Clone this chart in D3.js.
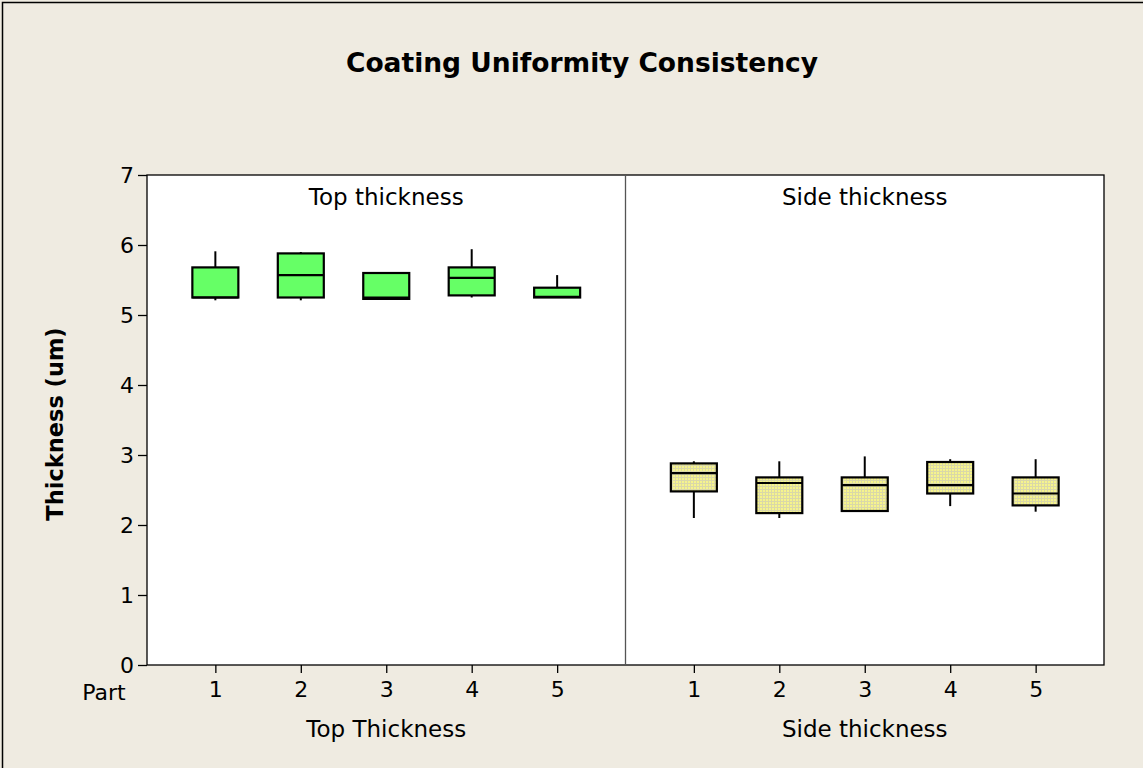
<!DOCTYPE html>
<html><head><meta charset="utf-8">
<script src="https://cdn.jsdelivr.net/npm/d3@7"></script>
<style>body{margin:0;background:#EFEBE1;}svg{display:block;}</style>
</head><body>
<script>
const parts = [1,2,3,4,5];
const panels = ["Top thickness","Side thickness"];
const xLabels = ["Top Thickness","Side thickness"];
const yTicks = [0,1,2,3,4,5,6,7];
// [lowerWhisker, q1, median, q3, upperWhisker]
const topBoxes = [
  [5.21,5.25,5.25,5.68,5.91],
  [5.21,5.25,5.57,5.88,5.90],
  [5.22,5.23,5.25,5.60,5.61],
  [5.25,5.28,5.53,5.68,5.94],
  [5.25,5.25,5.26,5.39,5.57]
];
const sideBoxes = [
  [2.10,2.48,2.74,2.88,2.91],
  [2.10,2.17,2.60,2.68,2.91],
  [2.20,2.20,2.57,2.68,2.98],
  [2.27,2.45,2.57,2.90,2.94],
  [2.19,2.28,2.45,2.68,2.94]
];
const W=1143,H=768;
const svg=d3.select("body").append("svg").attr("width",W).attr("height",H);
const defs=svg.append("defs");
const pat=defs.append("pattern").attr("id","dots").attr("patternUnits","userSpaceOnUse").attr("width",3).attr("height",3);
pat.append("rect").attr("width",3).attr("height",3).attr("fill","#F6F48C");
pat.append("rect").attr("x",0).attr("y",0).attr("width",3).attr("height",1).attr("fill","#DAD8A8");
pat.append("rect").attr("x",0).attr("y",0).attr("width",1).attr("height",3).attr("fill","#DAD8A8");
svg.append("rect").attr("width",W).attr("height",H).attr("fill","#EFEBE1");
svg.append("rect").attr("x",2.5).attr("y",2.5).attr("width",W+10).attr("height",H+10).attr("fill","none").attr("stroke","#000").attr("stroke-width",1.5);
const font="Tahoma, 'DejaVu Sans', sans-serif";
const fs=22;
svg.append("text").attr("x",582).attr("y",72).attr("text-anchor","middle").attr("font-family",font).attr("font-weight","bold").attr("font-size",26.5).attr("fill","#000").text("Coating Uniformity Consistency");
const L=147,R=1104,T=175,B=665,mid=625.5;
const y=d3.scaleLinear().domain([0,7]).range([B,T]);
svg.append("rect").attr("x",L).attr("y",T).attr("width",R-L).attr("height",B-T).attr("fill","#fff").attr("stroke","#000").attr("stroke-width",1.3);
svg.append("line").attr("x1",mid).attr("x2",mid).attr("y1",T).attr("y2",B).attr("stroke","#555").attr("stroke-width",1.3);
const yAxis=svg.append("g").attr("transform",`translate(${L},0)`).call(d3.axisLeft(y).tickValues(yTicks).tickFormat(d3.format("d")).tickSize(9).tickSizeOuter(0).tickPadding(4));
yAxis.select(".domain").remove();
yAxis.selectAll("line").attr("stroke","#000").attr("stroke-width",1.3);
yAxis.selectAll("text").attr("font-family",font).attr("font-size",fs).attr("fill","#000");
svg.append("text").attr("transform","translate(63,424) rotate(-90)").attr("text-anchor","middle").attr("font-family",font).attr("font-weight","bold").attr("font-size",22.5).text("Thickness (um)");
svg.append("text").attr("x",104).attr("y",700).attr("text-anchor","middle").attr("font-family",font).attr("font-size",fs).text("Part");
const ranges=[[L,mid],[mid,R]];
const data=[topBoxes,sideBoxes];
const fills=["#66FF66","url(#dots)"];
const bw=46;
ranges.forEach((rg,i)=>{
  const x=d3.scalePoint().domain(parts).range(rg).padding(0.8);
  const ax=svg.append("g").attr("transform",`translate(0,${B})`).call(d3.axisBottom(x).tickSize(8).tickSizeOuter(0).tickPadding(8));
  ax.select(".domain").remove();
  ax.selectAll("line").attr("stroke","#000").attr("stroke-width",1.3);
  ax.selectAll("text").attr("font-family",font).attr("font-size",fs).attr("fill","#000");
  const cx=(rg[0]+rg[1])/2;
  svg.append("text").attr("x",cx).attr("y",205).attr("text-anchor","middle").attr("font-family",font).attr("font-size",fs+1).text(panels[i]);
  svg.append("text").attr("x",cx).attr("y",737).attr("text-anchor","middle").attr("font-family",font).attr("font-size",fs+1).text(xLabels[i]);
  const g=svg.append("g");
  data[i].forEach((d,j)=>{
    const px=x(parts[j]);
    g.append("line").attr("x1",px).attr("x2",px).attr("y1",y(d[4])).attr("y2",y(d[3])).attr("stroke","#000").attr("stroke-width",2);
    g.append("line").attr("x1",px).attr("x2",px).attr("y1",y(d[1])).attr("y2",y(d[0])).attr("stroke","#000").attr("stroke-width",2);
    g.append("rect").attr("x",px-bw/2).attr("y",y(d[3])).attr("width",bw).attr("height",y(d[1])-y(d[3])).attr("fill",fills[i]).attr("stroke","#000").attr("stroke-width",2.2);
    g.append("line").attr("x1",px-bw/2).attr("x2",px+bw/2).attr("y1",y(d[2])).attr("y2",y(d[2])).attr("stroke","#000").attr("stroke-width",2.2);
  });
});
</script>
</body></html>
